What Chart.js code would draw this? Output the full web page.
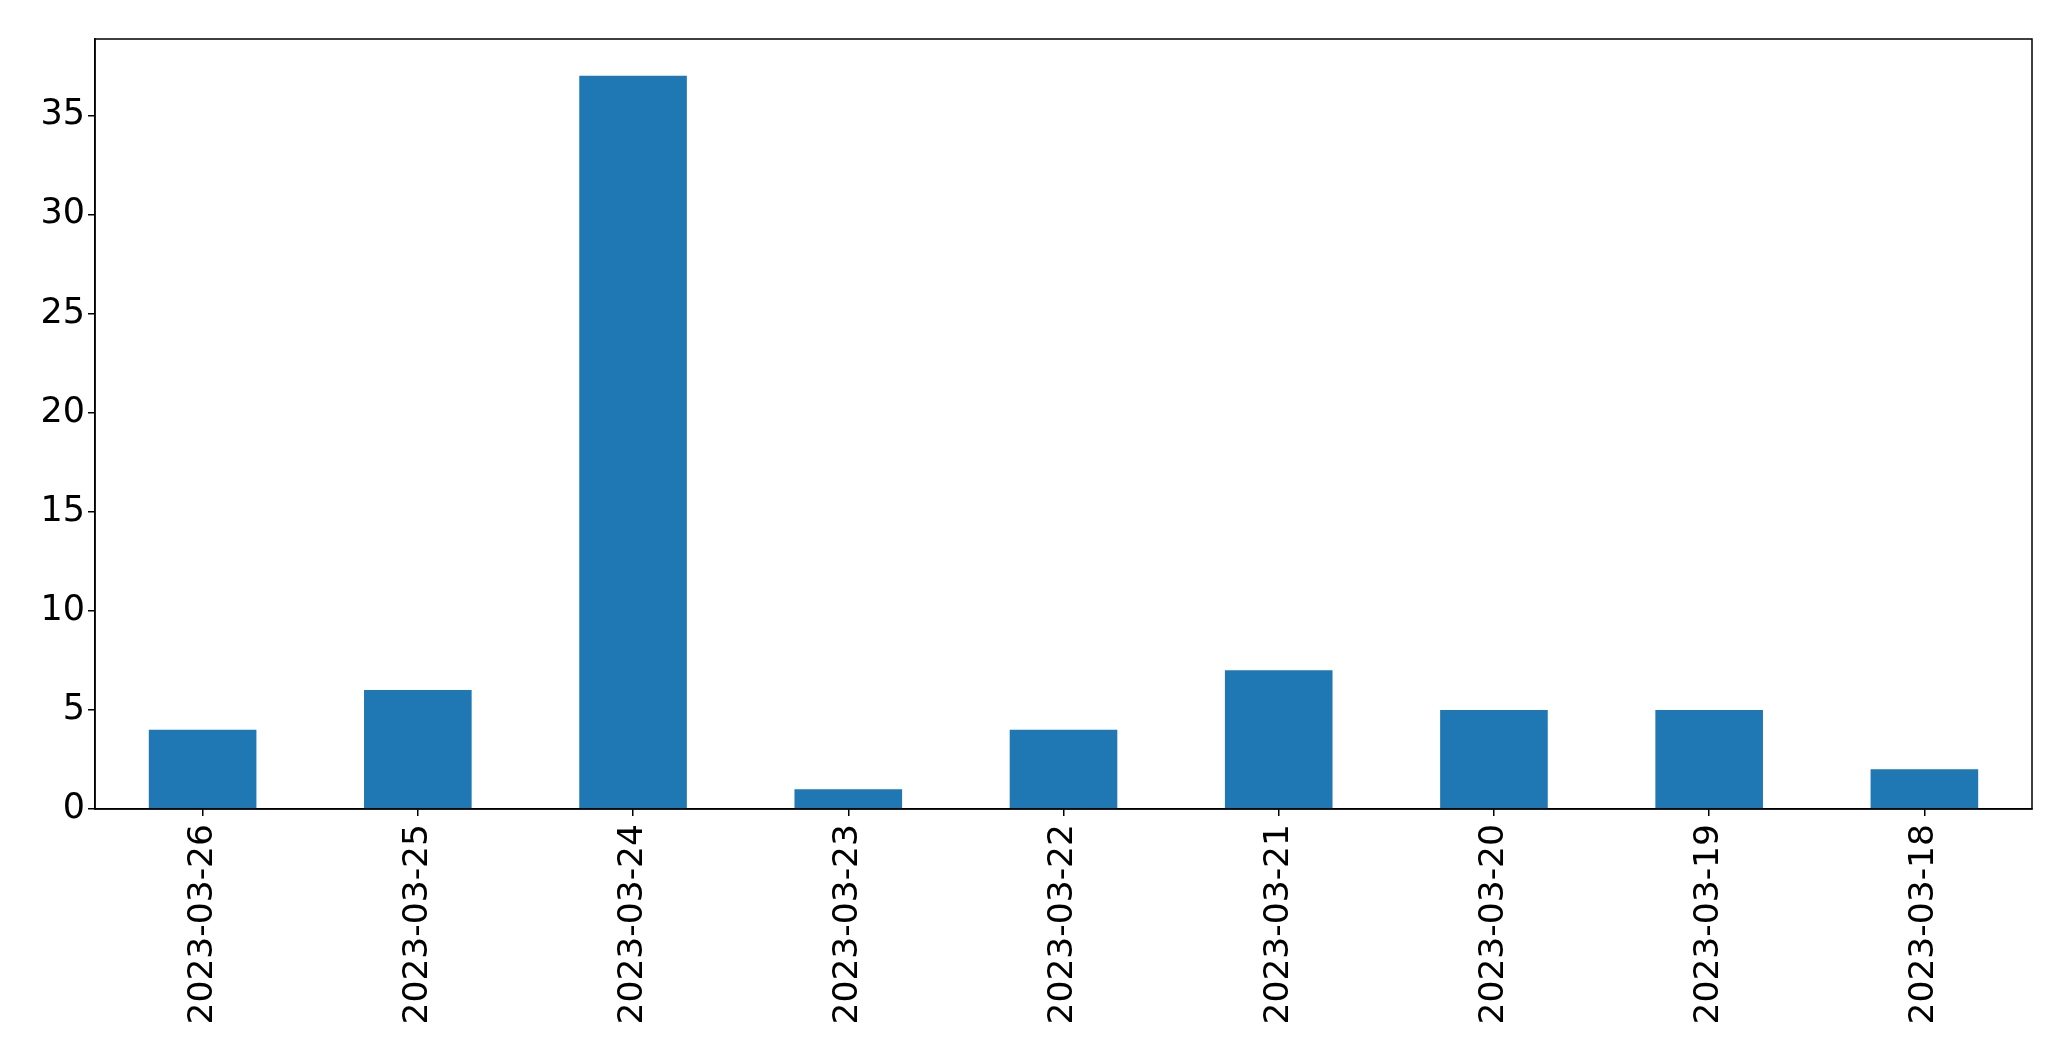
<!DOCTYPE html>
<html>
<head>
<meta charset="utf-8">
<script src="https://cdn.jsdelivr.net/npm/chart.js@4/dist/chart.umd.min.js"></script>
<style>
html,body{margin:0;padding:0;background:#fff;}
#wrap{width:2071px;height:1061px;position:relative;}
</style>
</head>
<body>
<div id="wrap"><canvas id="c" width="2071" height="1061"></canvas></div>
<script>
const categories = ["2023-03-26","2023-03-25","2023-03-24","2023-03-23","2023-03-22","2023-03-21","2023-03-20","2023-03-19","2023-03-18"];
const counts = [4, 6, 37, 1, 4, 7, 5, 5, 2];
const yTicks = [0, 5, 10, 15, 20, 25, 30, 35];

const frame = {
  id: 'frame',
  afterDraw(chart) {
    const a = chart.chartArea, ctx = chart.ctx;
    ctx.save();
    ctx.strokeStyle = '#000';
    ctx.lineWidth = 1.5;
    ctx.strokeRect(a.left, a.top, a.right - a.left, a.bottom - a.top);
    ctx.restore();
  }
};

new Chart(document.getElementById('c'), {
  type: 'bar',
  data: {
    labels: categories,
    datasets: [{
      data: counts,
      backgroundColor: '#1f77b4',
      borderWidth: 0,
      barPercentage: 0.5,
      categoryPercentage: 1.0
    }]
  },
  options: {
    responsive: false,
    animation: false,
    devicePixelRatio: 1,
    layout: { padding: { top: 39, right: 39, left: 0, bottom: 0 } },
    plugins: { legend: { display: false }, tooltip: { enabled: false } },
    scales: {
      x: {
        grid: { offset: false, drawOnChartArea: false, drawTicks: true, tickLength: 7, color: '#000', lineWidth: 1.5 },
        border: { color: '#000', width: 1.5 },
        ticks: {
          color: '#000',
          font: { family: 'DejaVu Sans', size: 34.5 },
          minRotation: 90, maxRotation: 90,
          padding: 8,
          autoSkip: false
        },
        afterFit(scale) { scale.height = 252; }
      },
      y: {
        min: 0, max: 38.85,
        afterBuildTicks(scale) { scale.ticks = yTicks.map(v => ({ value: v })); },
        grid: { drawOnChartArea: false, drawTicks: true, tickLength: 7, color: '#000', lineWidth: 1.5 },
        border: { color: '#000', width: 1.5 },
        ticks: {
          color: '#000',
          font: { family: 'DejaVu Sans', size: 35 },
          padding: 3
        },
        afterFit(scale) { scale.width = 95; }
      }
    }
  },
  plugins: [frame]
});
</script>
</body>
</html>
